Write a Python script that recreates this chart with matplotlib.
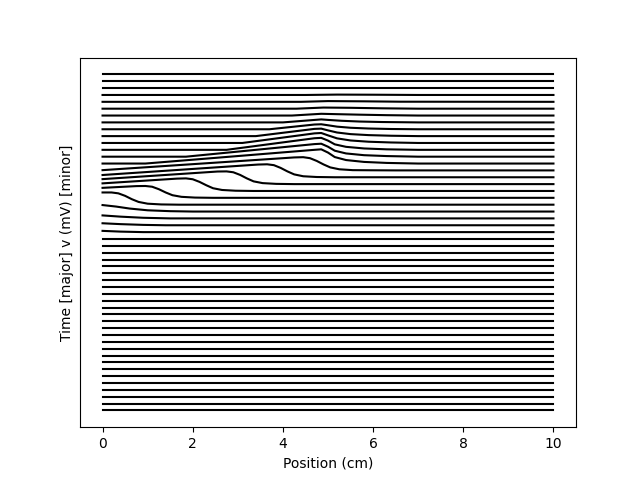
import matplotlib
matplotlib.use("Agg")
import matplotlib.pyplot as plt

# ========================================================
# Data (membrane potential along the axon)
# ========================================================
n_traces = 50          # one trace per time sample, bottom = earliest
v_rest = -65.0         # mV
t_offset = 55.0        # vertical shift between successive traces
x_ends = [0.0, 10.0]   # cable length (cm)

# traces that leave the resting potential: index -> (positions cm, v mV)
wave_x = {
    26: [0, 0.4, 0.9, 10],
    27: [0, 0.4, 0.9, 1.4, 10],
    28: [0, 0.4, 0.9, 1.5, 10],
    29: [0, 0.3, 0.6, 1.0, 1.5, 2.0, 10],
    30: [0, 0.2, 0.35, 0.5, 0.65, 0.8, 1.0, 1.3, 1.7, 10],
    31: [0, 0.75, 0.95, 1.1, 1.25, 1.4, 1.55, 1.75, 2.05, 2.45, 10],
    32: [0, 1.65, 1.85, 2.0, 2.15, 2.3, 2.45, 2.65, 2.95, 3.35, 10],
    33: [0, 2.55, 2.75, 2.9, 3.05, 3.2, 3.35, 3.55, 3.85, 4.25, 10],
    34: [0, 3.45, 3.65, 3.8, 3.95, 4.1, 4.25, 4.45, 4.75, 5.15, 10],
    35: [0, 4.25, 4.45, 4.6, 4.75, 4.9, 5.05, 5.25, 5.55, 5.95, 6.5, 10],
    36: [0, 0.95, 4.7, 4.85, 5.0, 5.15, 5.4, 5.8, 6.3, 7.0, 10],
    37: [0, 1.85, 4.7, 4.85, 5.0, 5.15, 5.4, 5.8, 6.3, 7.0, 10],
    38: [0, 2.75, 4.7, 4.85, 5.0, 5.15, 5.4, 5.8, 6.3, 7.0, 10],
    39: [0, 3.1, 4.7, 4.85, 5.0, 5.2, 5.5, 5.9, 6.4, 7.0, 10],
    40: [0, 3.4, 4.7, 4.85, 5.0, 5.2, 5.5, 5.9, 6.4, 7.0, 10],
    41: [0, 3.7, 4.7, 4.85, 5.0, 5.2, 5.5, 5.9, 6.4, 7.0, 10],
    42: [0, 4.0, 4.85, 5.0, 5.3, 5.7, 6.2, 7.0, 10],
    43: [0, 4.2, 4.85, 5.2, 5.7, 6.3, 7.0, 10],
    44: [0, 4.3, 4.9, 5.5, 6.2, 7.0, 10],
    45: [0, 4.4, 5.0, 5.8, 6.6, 10],
    46: [0, 4.5, 5.2, 6.0, 7.0, 10],
}
wave_v = {
    26: [-55, -61, -65, -65],
    27: [-49, -56, -62, -65, -65],
    28: [-41, -51, -60, -65, -65],
    29: [-13, -25, -41, -55, -62, -65, -65],
    30: [33, 33, 26, 6, -21, -43, -57, -63, -65, -65],
    31: [15, 29, 30, 24, 4, -22, -44, -57, -63, -65, -65],
    32: [-4, 34, 36, 29, 8, -19, -43, -57, -63, -65, -65],
    33: [-25, 36, 37, 30, 9, -19, -43, -57, -63, -65, -65],
    34: [-47, 37, 39, 32, 10, -18, -42, -57, -63, -65, -65],
    35: [-63, 39, 41, 33, 11, -17, -41, -56, -63, -64, -65, -65],
    36: [-65, -65, 45, 49, 23, -13, -37, -52, -60, -65, -65],
    37: [-65, -65, 36, 39, 15, -17, -39, -53, -60, -65, -65],
    38: [-65, -65, 28, 31, 9, -21, -41, -54, -61, -65, -65],
    39: [-65, -65, 12, 15, -4, -28, -45, -55, -61, -65, -65],
    40: [-65, -65, -7, -5, -19, -36, -49, -57, -62, -65, -65],
    41: [-65, -65, -27, -25, -33, -44, -53, -59, -63, -65, -65],
    42: [-65, -65, -41, -45, -52, -58, -62, -65, -65],
    43: [-65, -65, -51, -54, -58, -62, -65, -65],
    44: [-65, -65, -56, -58, -62, -65, -65],
    45: [-65, -65, -59, -61, -64, -65],
    46: [-65, -65, -62, -63, -65, -65],
}

# ========================================================
# Plot
# ========================================================
fig, ax = plt.subplots(figsize=(6.4, 4.8), dpi=100)

for i in range(n_traces):
    if i in wave_x:
        xs = wave_x[i]
        vs = wave_v[i]
    else:
        xs = x_ends
        vs = [v_rest, v_rest]
    ax.plot(xs, [i * t_offset + v for v in vs], color="black", linewidth=1.5)

ax.set_yticks([])
ax.set_xlabel("Position (cm)")
ax.set_ylabel("Time [major] v (mV) [minor]")

fig.savefig("out.png", dpi=100)
